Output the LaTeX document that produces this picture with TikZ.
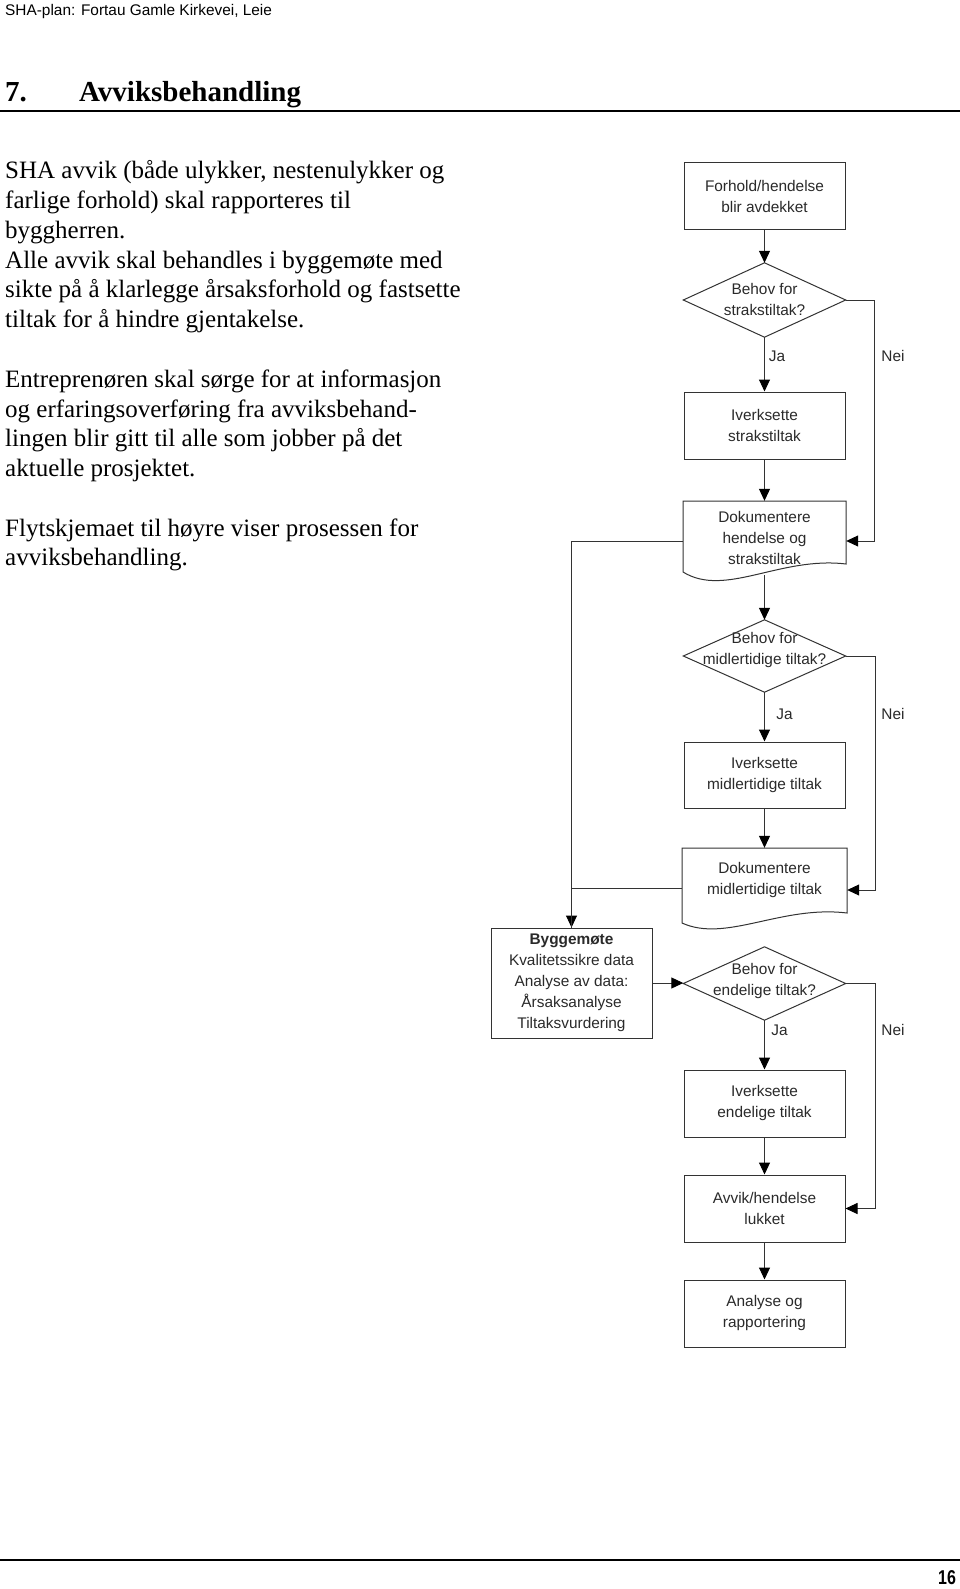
\documentclass[tikz,border=0pt]{standalone}
\usepackage{fontspec}
\setmainfont{Liberation Serif}
\newfontfamily\arialf{Liberation Sans}
\usetikzlibrary{arrows.meta,calc}
\definecolor{linegray}{HTML}{333333}
\definecolor{txtgray}{HTML}{2A2A2A}
\begin{document}
\begin{tikzpicture}[x=1pt,y=-1pt,
  fc/.style={font=\arialf\fontsize{15.4}{21}\selectfont, text=txtgray, align=center, inner sep=0pt},
  procbox/.style={fc, draw=linegray, line width=1pt, minimum width=161pt, minimum height=67pt},
  decbox/.style={fc, minimum width=162pt},
  docbox/.style={fc, minimum width=163pt, minimum height=74pt},
  shapeline/.style={draw=linegray, line width=1pt},
  conn/.style={draw=linegray, line width=1pt, -{Triangle[length=12pt,width=11pt,color=black,fill=black]}},
  plainconn/.style={draw=linegray, line width=1pt},
  lbl/.style={fc},
  body/.style={anchor=base west, inner sep=0pt, font=\fontsize{25}{29.75}\selectfont},
  rulef/.style={line width=2pt, black}
]
\useasboundingbox (0,0) rectangle (960,1589);
\fill[white] (0,0) rectangle (960,1589);

% header
\node[anchor=base west, inner sep=0pt, font=\arialf\fontsize{15.4}{18}\selectfont] (hdr) at (5,16) {SHA-plan: Fortau Gamle Kirkevei, Leie};
\node[anchor=base west, inner sep=0pt, font=\bfseries\fontsize{29}{32}\selectfont] (hnum) at (5,101.5) {7.};
\node[anchor=base west, inner sep=0pt, font=\bfseries\fontsize{29}{32}\selectfont] (htitle) at (79,101.5) {Avviksbehandling};
\draw[rulef] (0,111.5) -- (960,111.5);

% body text
\node[body] (t1) at (5,179) {SHA avvik (både ulykker, nestenulykker og};
\node[body] (t2) at (5,208.75) {farlige forhold) skal rapporteres til};
\node[body] (t3) at (5,238.5) {byggherren.};
\node[body] (t4) at (5,268.25) {Alle avvik skal behandles i byggemøte med};
\node[body] (t5) at (5,298) {sikte på å klarlegge årsaksforhold og fastsette};
\node[body] (t6) at (5,327.75) {tiltak for å hindre gjentakelse.};
\node[body] (t7) at (5,387.25) {Entreprenøren skal sørge for at informasjon};
\node[body] (t8) at (5,417) {og erfaringsoverføring fra avviksbehand-};
\node[body] (t9) at (5,446.75) {lingen blir gitt til alle som jobber på det};
\node[body] (t10) at (5,476.5) {aktuelle prosjektet.};
\node[body] (t11) at (5,536) {Flytskjemaet til høyre viser prosessen for};
\node[body] (t12) at (5,565.75) {avviksbehandling.};

% flowchart nodes
\node[procbox] (b1) at (764.5,196.5) {Forhold/hendelse\\blir avdekket};

\node[decbox, minimum height=74pt] (d1) at (764.5,300) {};
\draw[shapeline] (d1.north) -- (d1.east) -- (d1.south) -- (d1.west) -- cycle;
\node[fc] (d1t) at (764.5,299.5) {Behov for\\strakstiltak?};

\node[procbox] (b2) at (764.5,425.5) {Iverksette\\strakstiltak};

\node[docbox] (doc1) at (764.5,538) {Dokumentere\\hendelse og\\strakstiltak};
\draw[shapeline] (683,501) -- (846,501) -- (846,564) .. controls (780,556) and (725,598) .. (683,572) -- cycle;

\node[decbox, minimum height=72pt] (d2) at (764.5,656) {};
\draw[shapeline] (d2.north) -- (d2.east) -- (d2.south) -- (d2.west) -- cycle;
\node[fc] (d2t) at (764.5,650.5) {Behov for\\midlertidige tiltak?};

\node[procbox, minimum height=66pt] (b3) at (764.5,775) {Iverksette\\midlertidige tiltak};

\node[docbox, minimum width=165pt, minimum height=64pt] (doc2) at (764.5,880) {Dokumentere\\midlertidige tiltak};
\draw[shapeline] (682,848) -- (847,848) -- (847,913) .. controls (781,905) and (726,943) .. (682,923) -- cycle;

\node[procbox, minimum height=110pt] (bygg) at (571.5,983) {\textbf{Byggemøte}\\Kvalitetssikre data\\Analyse av data:\\Årsaksanalyse\\Tiltaksvurdering};

\node[decbox, minimum height=73pt] (d3) at (764.5,983.5) {};
\draw[shapeline] (d3.north) -- (d3.east) -- (d3.south) -- (d3.west) -- cycle;
\node[fc] (d3t) at (764.5,981) {Behov for\\endelige tiltak?};

\node[procbox] (b4) at (764.5,1103.5) {Iverksette\\endelige tiltak};
\node[procbox] (b5) at (764.5,1208.5) {Avvik/hendelse\\lukket};
\node[procbox] (b6) at (764.5,1313.5) {Analyse og\\rapportering};

% labels
\node[lbl] (ja1) at (777,356) {Ja};
\node[lbl] (nei1) at (893,356) {Nei};
\node[lbl] (ja2) at (784.5,714) {Ja};
\node[lbl] (nei2) at (893,714) {Nei};
\node[lbl] (ja3) at (779.5,1030) {Ja};
\node[lbl] (nei3) at (893,1030) {Nei};

% connectors
\draw[conn] (b1.south) -- (d1.north);
\draw[conn] (d1.south) -- (b2.north);
\draw[conn] (d1.east) -- ++(29,0) |- ($(doc1.east)+(0,3)$);
\draw[conn] (b2.south) -- (doc1.north);
\draw[conn] ($(doc1.west)+(0,3)$) -| (bygg.north);
\draw[conn] (doc1.south) -- (d2.north);
\draw[conn] (d2.south) -- (b3.north);
\draw[conn] (d2.east) -- ++(29.5,0) |- ($(doc2.east)+(0,10)$);
\draw[conn] (b3.south) -- (doc2.north);
\draw[plainconn] ($(doc2.west)+(0,8)$) -| (bygg.north);
\draw[conn] (bygg.east) -- (bygg.east -| d3.west);
\draw[conn] (d3.south) -- (b4.north);
\draw[conn] (d3.east) -- ++(29.5,0) |- (b5.east);
\draw[conn] (b4.south) -- (b5.north);
\draw[conn] (b5.south) -- (b6.north);

% footer
\draw[rulef] (0,1560) -- (960,1560);
\node[inner sep=0pt, font=\arialf\bfseries\fontsize{20}{22}\selectfont] (pg) at (947,1578) {\scalebox{0.8}[1]{16}};
\end{tikzpicture}
\end{document}
